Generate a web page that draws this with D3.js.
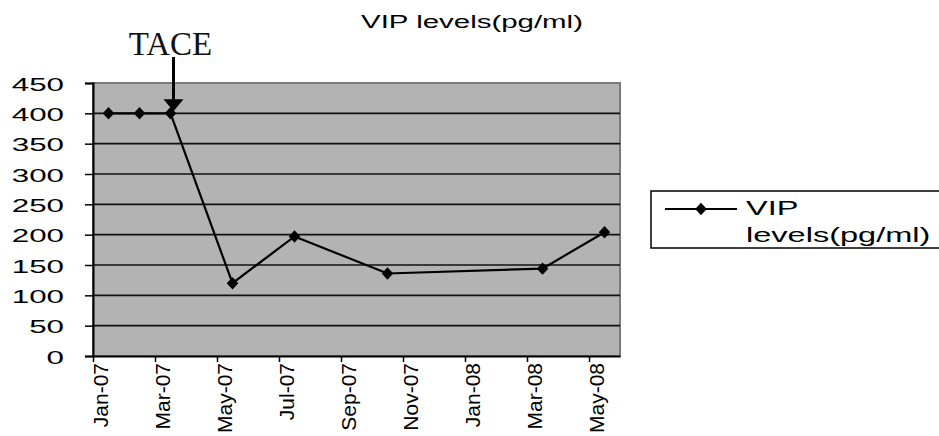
<!DOCTYPE html>
<html>
<head>
<meta charset="utf-8">
<script src="https://cdn.jsdelivr.net/npm/d3@7"></script>
<style>
  body { margin: 0; background: #fff; }
  text { font-family: "Liberation Sans", Arial, sans-serif; fill: #000; }
</style>
</head>
<body>
<div id="content"><svg width="939" height="436"></svg></div>
<script>
// slots on the month axis, one per month
var months = ["Jan-07", "Feb-07", "Mar-07", "Apr-07", "May-07", "Jun-07", "Jul-07", "Aug-07",
    "Sep-07", "Oct-07", "Nov-07", "Dec-07", "Jan-08", "Feb-08", "Mar-08", "Apr-08", "May-08"];
var tickMonths = ["Jan-07", "Mar-07", "May-07", "Jul-07", "Sep-07", "Nov-07", "Jan-08", "Mar-08", "May-08"];
var yTicks = [0, 50, 100, 150, 200, 250, 300, 350, 400, 450];

// measurements
var sampleMonths = ["Jan-07", "Feb-07", "Mar-07", "May-07", "Jul-07", "Oct-07", "Mar-08", "May-08"];
var vipValues = [400, 400, 400, 120, 197, 136, 144, 204];

var title = "VIP levels(pg/ml)";
var seriesName = ["VIP", "levels(pg/ml)"];
var annotation = "TACE";
var annotationMonth = "Mar-07";

var svg = d3.select("#content").select("svg");
var margin = {top: 83, right: 318, bottom: 80, left: 93},
    width = 620 - margin.left,
    height = 356 - margin.top;

var g = svg.append("g")
    .attr("transform", "translate(" + margin.left + "," + margin.top + ")");

var xScale = d3.scaleLinear().domain([0, months.length]).range([0, width]);
var yScale = d3.scaleLinear().domain([0, 450]).range([height, 0]);
var mid = function (m) { return xScale(months.indexOf(m) + 0.5); };

var stretch = 1.55;   // the picture is wider than the fonts

// plot area
g.append("rect")
    .attr("width", width)
    .attr("height", height)
    .attr("fill", "#b3b3b3")
    .attr("stroke", "#7a7a7a")
    .attr("stroke-width", 2);

// grid lines
g.selectAll(".grid")
    .data(yTicks.filter(function (d) { return d > 0 && d < 450; }))
    .enter().append("line")
    .attr("x1", 0).attr("x2", width)
    .attr("y1", function (d) { return yScale(d); })
    .attr("y2", function (d) { return yScale(d); })
    .attr("stroke", "#111")
    .attr("stroke-width", 1.6);

// y axis
var yAxis = g.append("g")
    .call(d3.axisLeft(yScale).tickValues(yTicks).tickSize(8).tickPadding(0));
yAxis.select(".domain").attr("stroke", "#000").attr("stroke-width", 2);
yAxis.selectAll(".tick line").attr("stroke", "#000").attr("stroke-width", 1.5);
yAxis.selectAll(".tick text")
    .attr("x", null)
    .attr("transform", "translate(-29,1) scale(" + (stretch + 0.1) + ",1)")
    .style("font-size", "19px")
    .style("font-family", "'Liberation Sans', Arial, sans-serif");

// x axis, ticks at the start of every second month
var xAxis = g.append("g")
    .attr("transform", "translate(0," + height + ")")
    .call(d3.axisBottom(xScale)
        .tickValues(tickMonths.map(function (m) { return months.indexOf(m); }))
        .tickFormat(function (i) { return months[i]; })
        .tickSize(6)
        .tickSizeOuter(0));
xAxis.select(".domain").attr("stroke", "#000").attr("stroke-width", 2);
xAxis.selectAll(".tick line").attr("stroke", "#000").attr("stroke-width", 1.5);
xAxis.selectAll(".tick text")
    .attr("transform", "translate(7,7) rotate(-90)")
    .attr("x", 0).attr("y", 0).attr("dy", "0.35em")
    .attr("text-anchor", "end")
    .style("font-size", "21px")
    .style("font-family", "'Liberation Sans', Arial, sans-serif");

// series line
var line = d3.line()
    .x(function (d, i) { return mid(sampleMonths[i]); })
    .y(function (d) { return yScale(d); });

g.append("path")
    .datum(vipValues)
    .attr("d", line)
    .attr("fill", "none")
    .attr("stroke", "#000")
    .attr("stroke-width", 2.2);

var diamond = d3.symbol().type(d3.symbolDiamond).size(55);
g.selectAll(".marker")
    .data(vipValues)
    .enter().append("path")
    .attr("d", diamond)
    .attr("transform", function (d, i) {
        return "translate(" + mid(sampleMonths[i]) + "," + yScale(d) + ") scale(1.45,0.9)";
    })
    .attr("fill", "#000");

// title
svg.append("text")
    .attr("transform", "translate(472,28) scale(" + stretch + ",1)")
    .attr("text-anchor", "middle")
    .style("font-size", "19px")
    .text(title);

// TACE annotation with arrow
var ax = margin.left + mid(annotationMonth) + 3;
var ay = margin.top + yScale(vipValues[sampleMonths.indexOf(annotationMonth)]);
svg.append("text")
    .attr("x", ax - 3).attr("y", 55)
    .attr("text-anchor", "middle")
    .style("font-family", "'Liberation Serif', 'Times New Roman', serif")
    .style("font-size", "33px")
    .style("fill", "#111")
    .text(annotation);
svg.append("line")
    .attr("x1", ax).attr("x2", ax)
    .attr("y1", 57).attr("y2", ay - 12)
    .attr("stroke", "#000").attr("stroke-width", 3);
svg.append("path")
    .attr("d", d3.line()([[ax - 10, ay - 14], [ax + 10, ay - 14], [ax, ay - 2]]) + "Z")
    .attr("fill", "#000");

// legend
var lg = svg.append("g").attr("transform", "translate(651,191)");
lg.append("rect")
    .attr("width", 320).attr("height", 57)
    .attr("fill", "#fff")
    .attr("stroke", "#000").attr("stroke-width", 1.5);
lg.append("line")
    .attr("x1", 14).attr("x2", 86)
    .attr("y1", 18).attr("y2", 18)
    .attr("stroke", "#000").attr("stroke-width", 2);
lg.append("path")
    .attr("d", diamond)
    .attr("transform", "translate(50,18) scale(1.45,0.9)")
    .attr("fill", "#000");
lg.selectAll(".legend-text")
    .data(seriesName)
    .enter().append("text")
    .attr("transform", function (d, i) {
        return "translate(95," + (24 + i * 27) + ") scale(" + stretch + ",1)";
    })
    .style("font-size", "21px")
    .text(function (d) { return d; });
</script>
</body>
</html>
